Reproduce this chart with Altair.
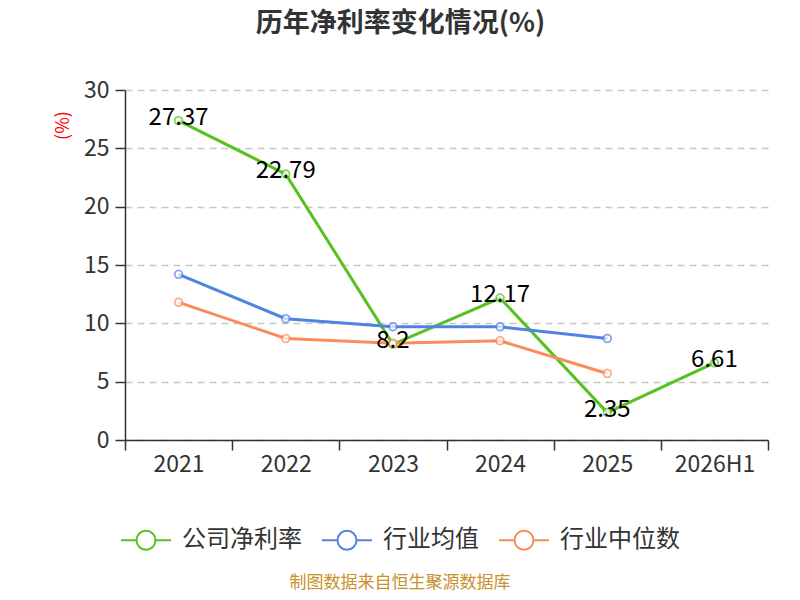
import altair as alt
import pandas as pd

categories = ["2021", "2022", "2023", "2024", "2025", "2026H1"]
company = [27.37, 22.79, 8.2, 12.17, 2.35, 6.61]
industry_mean = [14.2, 10.4, 9.7, 9.7, 8.7]
industry_median = [11.8, 8.7, 8.3, 8.5, 5.7]
series_names = ["公司净利率", "行业均值", "行业中位数"]
series_colors = ["#55c21f", "#4f83e3", "#fb8c5a"]

rows = []
for c, v in zip(categories, company):
    rows.append({"year": c, "value": v, "series": series_names[0], "label": f"{v:g}"})
for c, v in zip(categories, industry_mean):
    rows.append({"year": c, "value": v, "series": series_names[1], "label": ""})
for c, v in zip(categories, industry_median):
    rows.append({"year": c, "value": v, "series": series_names[2], "label": ""})
df = pd.DataFrame(rows)

FONT = "Noto Sans CJK SC"

x_enc = alt.X(
    "year:N",
    sort=categories,
    scale=alt.Scale(type="band", domain=categories, paddingInner=0, paddingOuter=0),
    axis=alt.Axis(
        title=None,
        labelAngle=0,
        labelFontSize=23,
        labelColor="#333333",
        labelFont=FONT,
        labelPadding=3,
        tickBand="extent",
        tickSize=10,
        tickColor="#333333",
        tickWidth=1.5,
        domainColor="#333333",
        domainWidth=1.5,
        grid=False,
    ),
)
y_enc = alt.Y(
    "value:Q",
    scale=alt.Scale(domain=[0, 30], nice=False),
    axis=alt.Axis(
        values=[0, 5, 10, 15, 20, 25, 30],
        title="(%)",
        titleColor="red",
        titleFont=FONT,
        titleFontSize=18,
        titleFontWeight="normal",
        titleX=-62,
        titleY=35,
        titleAngle=270,
        titleAlign="center",
        titleBaseline="middle",
        labelFontSize=23,
        labelColor="#333333",
        labelFont=FONT,
        labelPadding=6,
        tickSize=10,
        tickColor="#333333",
        tickWidth=1.5,
        domainColor="#333333",
        domainWidth=1.5,
        grid=True,
        gridColor="#c8c8c8",
        gridDash=[7, 5],
        gridWidth=1.5,
    ),
)

color_scale = alt.Scale(domain=series_names, range=series_colors)

legend_symbol = "M-1,0L-0.38,0M0.38,0L1,0M-0.38,0A0.38,0.38 0 1,1 0.38,0A0.38,0.38 0 1,1 -0.38,0Z"

lines = alt.Chart(df).mark_line(strokeWidth=3).encode(
    x=x_enc,
    y=y_enc,
    color=alt.Color(
        "series:N",
        scale=color_scale,
        sort=series_names,
        legend=alt.Legend(
            title=None,
            orient="none",
            direction="horizontal",
            legendX=-5,
            legendY=424,
            symbolType=legend_symbol,
            symbolSize=2500,
            symbolStrokeWidth=2,
            symbolFillColor="white",
            labelFont=FONT,
            labelFontSize=24,
            labelColor="#333333",
            labelOffset=10,
            columnPadding=16,
        ),
    ),
)

points = alt.Chart(df).mark_point(shape="circle", filled=True, fill="white", size=60, strokeWidth=1.8).encode(
    x=x_enc,
    y=y_enc,
    stroke=alt.Stroke("series:N", scale=color_scale, legend=None),
)

labels = alt.Chart(df).transform_filter(alt.datum.label != "").mark_text(
    fontSize=24, font=FONT, color="#000000", baseline="middle", align="center", dy=-3
).encode(
    x=x_enc,
    y=y_enc,
    text="label:N",
)

src_df = pd.DataFrame({"t": ["制图数据来自恒生聚源数据库"]})
source = alt.Chart(src_df).mark_text(
    fontSize=17, font=FONT, color="#c8902a", align="center", baseline="middle"
).encode(x=alt.value(275), y=alt.value(493), text="t:N")

chart = alt.layer(lines, points, labels, source).properties(
    width=643,
    height=350,
    title=alt.TitleParams(
        "历年净利率变化情况(%)",
        fontSize=27,
        font=FONT,
        fontWeight="bold",
        color="#333333",
        anchor="middle",
        frame="group",
        dx=-46,
        offset=41,
    ),
    autosize=alt.AutoSizeParams(type="none"),
    padding={"left": 117, "top": 82, "right": 16, "bottom": 152},
    background="white",
).configure_view(stroke=None)

chart.save("out.html", embed_options={"renderer": "svg", "actions": False})
